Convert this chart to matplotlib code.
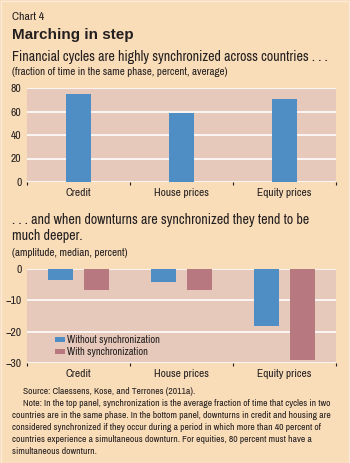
import matplotlib
matplotlib.use("Agg")
import matplotlib.pyplot as plt
from matplotlib.patches import Rectangle
import numpy as np

categories = ["Credit", "House prices", "Equity prices"]
sync_share = [75, 59, 71]
without_sync = [-3.4, -4.0, -18.1]
with_sync = [-6.6, -6.8, -29.2]
top_yticks = [0, 20, 40, 60, 80]
bot_yticks = [0, -10, -20, -30]

BG = "#F9DCB8"
PLOT_BG = "#E6C9BB"
BLUE = "#4F8EC5"
RED = "#B77880"
TXT = "#231F20"

plt.rcParams['font.family'] = ['Archivo Narrow', 'DejaVu Sans']

W, H = 350, 463
fig = plt.figure(figsize=(W / 100, H / 100), dpi=100, facecolor=BG)

def ax_rect(x0, y0, x1, y1):
    return [x0 / W, 1 - y1 / H, (x1 - x0) / W, (y1 - y0) / H]

def style(ax, yticks, ylim):
    ax.set_facecolor(PLOT_BG)
    for s in ax.spines.values():
        s.set_visible(False)
    ax.set_xlim(-0.5, 2.5)
    ax.set_ylim(*ylim)
    ax.set_yticks(yticks)
    ax.tick_params(axis='y', length=0, labelsize=8.3, colors=TXT, pad=4)
    ax.set_xticks(range(len(categories)))
    ax.set_xticklabels(categories)
    ax.tick_params(axis='x', which='major', length=0, labelsize=8.2, colors=TXT, pad=4)
    ax.set_xticks([-0.5, 0.5, 1.5, 2.5], minor=True)
    ax.tick_params(axis='x', which='minor', length=2.5, width=0.8, color=TXT, direction='out')
    ax.grid(axis='y', color='white', linewidth=1.2)
    ax.set_axisbelow(True)

x = np.arange(len(categories))

# Top panel
ax1 = fig.add_axes(ax_rect(27, 88, 336, 182))
ax1.bar(x, sync_share, width=0.25, color=BLUE, zorder=3)
style(ax1, top_yticks, (0, 80))

# Bottom panel
ax2 = fig.add_axes(ax_rect(27, 269, 336, 363))
off = 0.175
ax2.bar(x - off, without_sync, width=0.24, color=BLUE, zorder=3, label="Without synchronization")
ax2.bar(x + off, with_sync, width=0.24, color=RED, zorder=3, label="With synchronization")
style(ax2, bot_yticks, (-30, 0))
ax2.legend(loc='lower left', bbox_to_anchor=(0.09, 0.06), frameon=False, fontsize=7.6,
           handlelength=1.0, handleheight=0.45, handletextpad=0.2, labelspacing=0.2,
           borderpad=0.0, borderaxespad=0.0, labelcolor=TXT)

def t(xp, yp, s, **kw):
    fig.text(xp / W, 1 - yp / H, s, va='center', ha='left', color=TXT, **kw)

t(12, 17, "Chart 4", fontsize=8.5)
t(12, 35, "Marching in step", fontsize=11, fontweight='bold', family=['Liberation Sans', 'DejaVu Sans'])
t(12, 57, "Financial cycles are highly synchronized across countries . . .", fontsize=10.1)
t(12, 72, "(fraction of time in the same phase, percent, average)", fontsize=7.9)
t(12, 220, ". . . and when downturns are synchronized they tend to be", fontsize=10.1)
t(12, 236, "much deeper.", fontsize=10.1)
t(12, 253, "(amplitude, median, percent)", fontsize=7.9)

notes = [
    (23, 392, "Source: Claessens, Kose, and Terrones (2011a)."),
    (23, 404, "Note: In the top panel, synchronization is the average fraction of time that cycles in two"),
    (12, 416, "countries are in the same phase. In the bottom panel, downturns in credit and housing are"),
    (12, 428, "considered synchronized if they occur during a period in which more than 40 percent of"),
    (12, 440, "countries experience a simultaneous downturn. For equities, 80 percent must have a"),
    (12, 452, "simultaneous downturn."),
]
for xp, yp, s in notes:
    t(xp, yp, s, fontsize=6.9)

# thin light frame around the figure
fig.patches.append(Rectangle((0.5 / W, 0.5 / H), 1 - 1.5 / W, 1 - 1.5 / H, transform=fig.transFigure,
                             fill=False, edgecolor="#FCEBDA", linewidth=1.0))

fig.savefig("out.png", dpi=100, facecolor=BG)
